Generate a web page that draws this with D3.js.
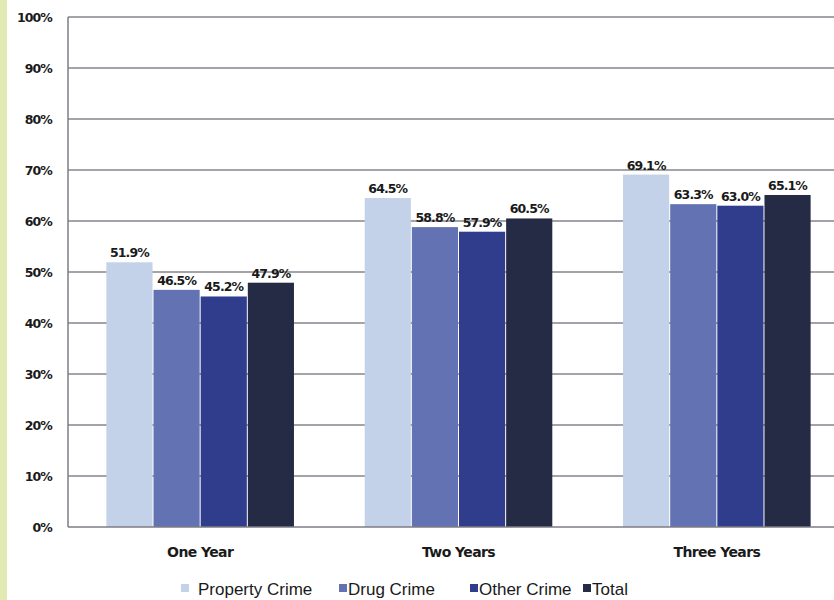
<!DOCTYPE html>
<html>
<head>
<meta charset="utf-8">
<script src="https://cdn.jsdelivr.net/npm/d3@7"></script>
<style>
  body { margin: 0; background: #fff; }
  svg { display: block; }
</style>
</head>
<body>
<div id="chart"></div>
<script>
const categories = ["One Year", "Two Years", "Three Years"];
const seriesNames = ["Property Crime", "Drug Crime", "Other Crime", "Total"];
const propertyCrime = [51.9, 64.5, 69.1];
const drugCrime = [46.5, 58.8, 63.3];
const otherCrime = [45.2, 57.9, 63.0];
const total = [47.9, 60.5, 65.1];
const yTicks = [0, 10, 20, 30, 40, 50, 60, 70, 80, 90, 100];
const colors = ["#c3d2e8", "#6272b3", "#2f3d8c", "#252a45"];

const seriesValues = [propertyCrime, drugCrime, otherCrime, total];

const W = 834, H = 600;
const plotLeft = 68, plotTop = 17, plotBottom = 527;

const svg = d3.select("#chart").append("svg")
  .attr("width", W).attr("height", H);

// scanned page edge strip
svg.append("rect").attr("x", 0).attr("y", 0).attr("width", 7).attr("height", H)
  .attr("fill", "#e2eab4");

const y = d3.scaleLinear().domain([0, 100]).range([plotBottom, plotTop]);
const x0 = d3.scaleBand().domain(categories).range([71, 846]).paddingInner(0.27).paddingOuter(0.135);
const x1 = d3.scaleBand().domain(seriesNames).range([0, x0.bandwidth()]).padding(0);

// gridlines
svg.append("g").selectAll("line").data(yTicks.filter(d => d > 0)).enter().append("line")
  .attr("x1", plotLeft).attr("x2", W)
  .attr("y1", d => y(d)).attr("y2", d => y(d))
  .attr("stroke", "#85858c").attr("stroke-width", 1.3);

// y labels
svg.append("g").selectAll("text").data(yTicks).enter().append("text")
  .attr("x", 52).attr("y", d => y(d) + 4.5)
  .attr("text-anchor", "end")
  .attr("font-family", "DejaVu Sans").attr("font-weight", "bold")
  .attr("font-size", 12.5).attr("letter-spacing", -0.9)
  .attr("fill", "#1a1a1a")
  .text(d => d + "%");

// bars
const groups = svg.append("g").selectAll("g").data(categories).enter().append("g")
  .attr("transform", d => `translate(${x0(d)},0)`);

groups.selectAll("rect")
  .data((c, i) => seriesNames.map((s, j) => ({ s, j, v: seriesValues[j][i] })))
  .enter().append("rect")
  .attr("x", d => x1(d.s) + 0.5)
  .attr("width", x1.bandwidth() - 1)
  .attr("y", d => y(d.v))
  .attr("height", d => plotBottom - y(d.v))
  .attr("fill", d => colors[d.j]);

groups.selectAll("text")
  .data((c, i) => seriesNames.map((s, j) => ({ s, j, v: seriesValues[j][i] })))
  .enter().append("text")
  .attr("x", d => x1(d.s) + x1.bandwidth() / 2)
  .attr("y", d => y(d.v) - 5)
  .attr("text-anchor", "middle")
  .attr("font-family", "DejaVu Sans").attr("font-weight", "bold")
  .attr("font-size", 12.5).attr("letter-spacing", -0.9)
  .attr("fill", "#1a1a1a")
  .text(d => d.v.toFixed(1) + "%");

// axis frame
svg.append("line").attr("x1", plotLeft).attr("x2", plotLeft).attr("y1", plotTop).attr("y2", plotBottom)
  .attr("stroke", "#7d7d85").attr("stroke-width", 1.5);
svg.append("line").attr("x1", plotLeft).attr("x2", W).attr("y1", plotBottom).attr("y2", plotBottom)
  .attr("stroke", "#7d7d85").attr("stroke-width", 1.5);

// category labels
svg.append("g").selectAll("text").data(categories).enter().append("text")
  .attr("x", d => x0(d) + x0.bandwidth() / 2)
  .attr("y", 557)
  .attr("text-anchor", "middle")
  .attr("font-family", "DejaVu Sans").attr("font-weight", "bold")
  .attr("font-size", 14).attr("letter-spacing", -0.6)
  .attr("fill", "#1a1a1a")
  .text(d => d);

// legend
const legendX = [181, 339, 470, 583];
const legend = svg.append("g").selectAll("g").data(seriesNames).enter().append("g")
  .attr("transform", (d, i) => `translate(${legendX[i]},595)`);
legend.append("rect").attr("x", 0).attr("y", -11).attr("width", 8).attr("height", 8)
  .attr("fill", (d, i) => colors[i]);
legend.append("text").attr("x", (d, i) => i === 0 ? 17 : 9).attr("y", 0)
  .attr("font-family", "Liberation Sans").attr("font-size", 17)
  .attr("fill", "#1a1a1a")
  .text(d => d);
</script>
</body>
</html>
